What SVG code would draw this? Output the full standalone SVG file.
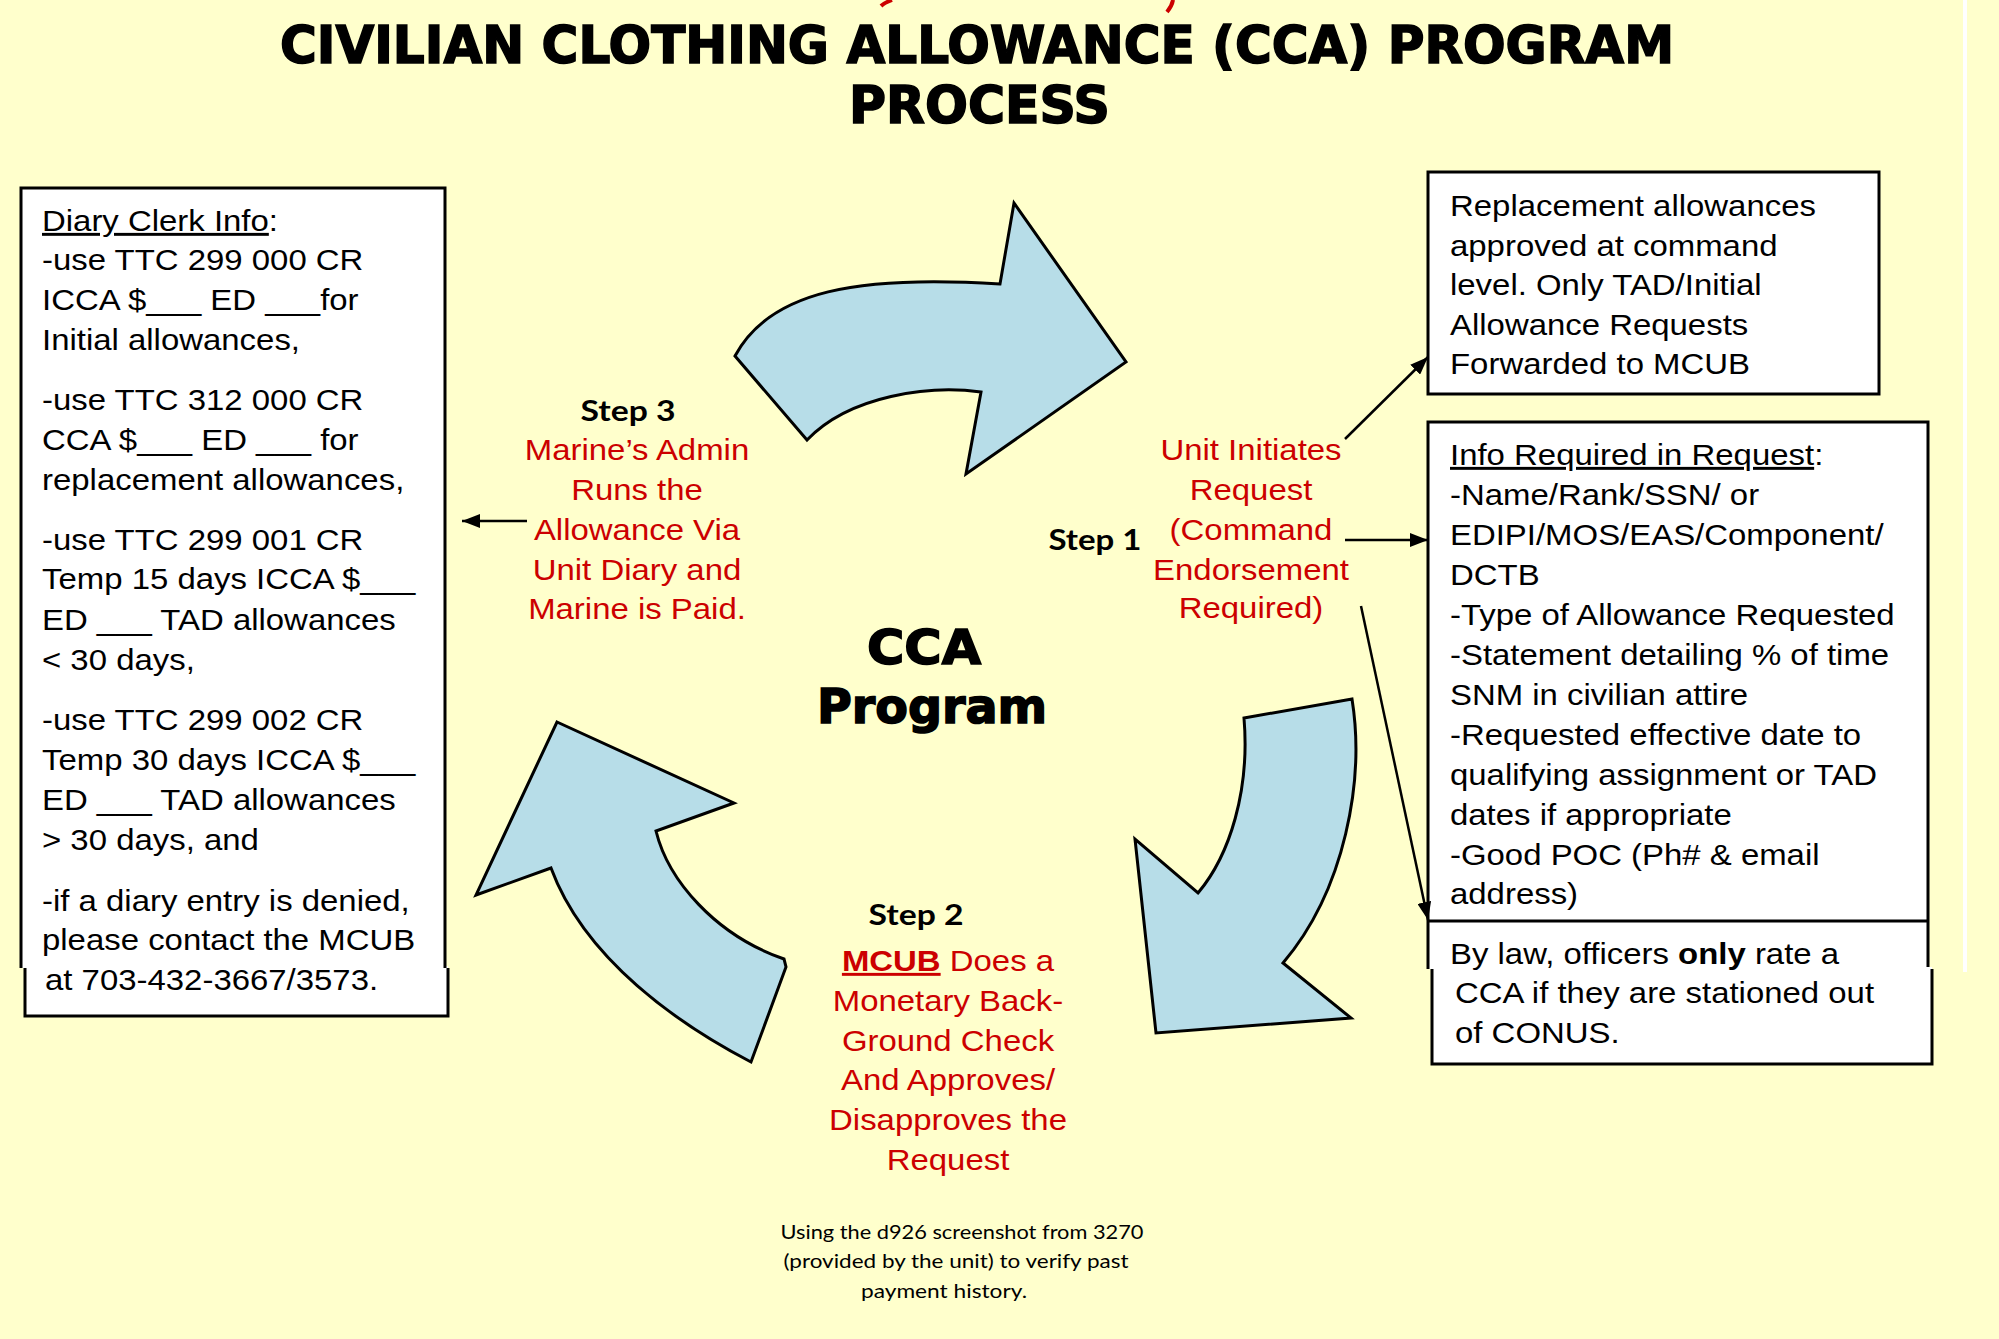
<svg xmlns="http://www.w3.org/2000/svg" width="1999" height="1339" viewBox="0 0 1999 1339">
<defs>
<style>
.bg{fill:#FFFFCC}
.box{fill:#FFFFFF;stroke:none}
.edge{fill:none;stroke:#000;stroke-width:3}
.arr{fill:#B7DDE8;stroke:#000;stroke-width:3;stroke-linejoin:miter}
.t{font-family:"Liberation Sans",Arial,sans-serif;font-size:29.4px;fill:#000}
.r{font-family:"Liberation Sans",Arial,sans-serif;font-size:29.4px;fill:#CC0000;text-anchor:middle}
.step{font-family:Lato,"Open Sans",sans-serif;font-weight:700;font-size:28px;fill:#000}
.title{font-family:"DejaVu Sans",sans-serif;font-weight:700;fill:#000;stroke:#000;stroke-width:1.6px}
.foot{font-family:Lato,"Open Sans",sans-serif;font-size:20px;fill:#000;text-anchor:middle}
.conn{stroke:#000;stroke-width:2.5;fill:none}
</style>
<marker id="ah" markerUnits="userSpaceOnUse" markerWidth="18" markerHeight="14" refX="18" refY="7" orient="auto">
<path d="M0,0 L18,7 L0,14 z" fill="#000"/>
</marker>
</defs>
<rect class="bg" x="0" y="0" width="1999" height="1339"/>
<rect x="1963" y="0" width="4" height="972" fill="#FFFFFF"/>
<path d="M892,0 Q884,3 881,6" stroke="#CC0000" stroke-width="4" fill="none"/>
<path d="M1173,0 Q1172,6 1167,12" stroke="#CC0000" stroke-width="4" fill="none"/>

<g id="title">
<text class="title" x="280" y="63" font-size="52" textLength="1394" lengthAdjust="spacingAndGlyphs">CIVILIAN CLOTHING ALLOWANCE (CCA) PROGRAM</text>
<text class="title" x="849" y="123" font-size="52" textLength="261" lengthAdjust="spacingAndGlyphs">PROCESS</text>
</g>

<g id="arrow-top">
<path class="arr" d="M735,356 C770,290 860,275 1000,284 L1014,203 L1126,362 L966,474 L981,392 C930,385 850,395 807,440 Z"/>
</g>
<g id="arrow-right">
<path class="arr" d="M1244,718 L1352,699 C1365,780 1345,890 1283,963 L1351,1018 L1156,1033 L1135,839 L1198,893 C1230,855 1250,790 1244,718 Z"/>
</g>
<g id="arrow-left">
<path class="arr" d="M557,722 L734,803 L656,831 C668,880 715,935 784,959 L786,967 L751,1062 C680,1025 585,960 551,868 L476,895 Z"/>
</g>

<g id="center-label">
<text class="title" x="867" y="664" font-size="48" textLength="114" lengthAdjust="spacingAndGlyphs">CCA</text>
<text class="title" x="817" y="723" font-size="48" textLength="230" lengthAdjust="spacingAndGlyphs">Program</text>
</g>

<g id="diary-clerk-box">
<rect class="box" x="21" y="188" width="424" height="780"/>
<rect class="box" x="25" y="966" width="423" height="50"/>
<path class="edge" d="M21,968 L21,188 L445,188 L445,968"/>
<path class="edge" d="M25,968 L25,1016 L448,1016 L448,968"/>
<g transform="translate(42,0) scale(1.12,1)">
<text class="t" x="0" y="231"><tspan text-decoration="underline">Diary Clerk Info</tspan>:</text>
<text class="t" x="0" y="270">-use TTC 299 000 CR</text>
<text class="t" x="0" y="310">ICCA $___ ED ___for</text>
<text class="t" x="0" y="350">Initial allowances,</text>
<text class="t" x="0" y="410">-use TTC 312 000 CR</text>
<text class="t" x="0" y="450">CCA $___ ED ___ for</text>
<text class="t" x="0" y="490">replacement allowances,</text>
<text class="t" x="0" y="550">-use TTC 299 001 CR</text>
<text class="t" x="0" y="589">Temp 15 days ICCA $___</text>
<text class="t" x="0" y="630">ED ___ TAD allowances</text>
<text class="t" x="0" y="670">&lt; 30 days,</text>
<text class="t" x="0" y="730">-use TTC 299 002 CR</text>
<text class="t" x="0" y="770">Temp 30 days ICCA $___</text>
<text class="t" x="0" y="810">ED ___ TAD allowances</text>
<text class="t" x="0" y="850">&gt; 30 days, and</text>
<text class="t" x="0" y="911">-if a diary entry is denied,</text>
<text class="t" x="0" y="950">please contact the MCUB</text>
<text class="t" x="2.7" y="990">at 703-432-3667/3573.</text>
</g>
</g>

<g id="step3">
<text class="step" x="628" y="421" text-anchor="middle" textLength="95" lengthAdjust="spacingAndGlyphs">Step 3</text>
<g transform="translate(637,0) scale(1.12,1)">
<text class="r" x="0" y="460">Marine’s Admin</text>
<text class="r" x="0" y="500">Runs the</text>
<text class="r" x="0" y="540">Allowance Via</text>
<text class="r" x="0" y="580">Unit Diary and</text>
<text class="r" x="0" y="619">Marine is Paid.</text>
</g>
</g>

<g id="step1">
<text class="step" x="1095" y="550" text-anchor="middle" textLength="93" lengthAdjust="spacingAndGlyphs">Step 1</text>
<g transform="translate(1251,0) scale(1.12,1)">
<text class="r" x="0" y="460">Unit Initiates</text>
<text class="r" x="0" y="500">Request</text>
<text class="r" x="0" y="540">(Command</text>
<text class="r" x="0" y="580">Endorsement</text>
<text class="r" x="0" y="618">Required)</text>
</g>
</g>

<g id="step2">
<text class="step" x="916" y="925" text-anchor="middle" textLength="95" lengthAdjust="spacingAndGlyphs">Step 2</text>
<g transform="translate(948,0) scale(1.12,1)">
<text class="r" x="0" y="971"><tspan font-weight="700" text-decoration="underline">MCUB</tspan> Does a</text>
<text class="r" x="0" y="1011">Monetary Back-</text>
<text class="r" x="0" y="1051">Ground Check</text>
<text class="r" x="0" y="1090">And Approves/</text>
<text class="r" x="0" y="1130">Disapproves the</text>
<text class="r" x="0" y="1170">Request</text>
</g>
</g>

<g id="replacement-box">
<rect class="box" x="1428" y="172" width="451" height="222"/>
<rect class="edge" x="1428" y="172" width="451" height="222"/>
<g transform="translate(1450,0) scale(1.12,1)">
<text class="t" x="0" y="216">Replacement allowances</text>
<text class="t" x="0" y="256">approved at command</text>
<text class="t" x="0" y="295">level. Only TAD/Initial</text>
<text class="t" x="0" y="335">Allowance Requests</text>
<text class="t" x="0" y="374">Forwarded to MCUB</text>
</g>
</g>

<g id="info-box">
<rect class="box" x="1428" y="422" width="500" height="547"/>
<path class="edge" d="M1428,969 L1428,422 L1928,422 L1928,969"/>
<g transform="translate(1450,0) scale(1.12,1)">
<text class="t" x="0" y="465"><tspan text-decoration="underline">Info Required in Request</tspan>:</text>
<text class="t" x="0" y="505">-Name/Rank/SSN/ or</text>
<text class="t" x="0" y="545">EDIPI/MOS/EAS/Component/</text>
<text class="t" x="0" y="585">DCTB</text>
<text class="t" x="0" y="625">-Type of Allowance Requested</text>
<text class="t" x="0" y="665">-Statement detailing % of time</text>
<text class="t" x="0" y="705">SNM in civilian attire</text>
<text class="t" x="0" y="745">-Requested effective date to</text>
<text class="t" x="0" y="785">qualifying assignment or TAD</text>
<text class="t" x="0" y="825">dates if appropriate</text>
<text class="t" x="0" y="865">-Good POC (Ph# &amp; email</text>
<text class="t" x="0" y="904">address)</text>
</g>
</g>

<g id="law-box">
<rect class="box" x="1432" y="967" width="500" height="97"/>
<path class="edge" d="M1428,921 L1928,921"/>
<path class="edge" d="M1432,969 L1432,1064 L1932,1064 L1932,969"/>
<g transform="translate(1450,0) scale(1.12,1)">
<text class="t" x="0" y="964">By law, officers <tspan font-weight="700">only</tspan> rate a</text>
<text class="t" x="4.5" y="1003">CCA if they are stationed out</text>
<text class="t" x="4.5" y="1043">of CONUS.</text>
</g>
</g>

<g id="footnote">
<text class="foot" x="962" y="1239" textLength="363" lengthAdjust="spacingAndGlyphs">Using the d926 screenshot from 3270</text>
<text class="foot" x="956" y="1268" textLength="345" lengthAdjust="spacingAndGlyphs">(provided by the unit) to verify past</text>
<text class="foot" x="944" y="1298" textLength="166" lengthAdjust="spacingAndGlyphs">payment history.</text>
</g>

<g id="connectors">
<line class="conn" x1="1345" y1="439" x2="1428" y2="357" marker-end="url(#ah)"/>
<line class="conn" x1="1345" y1="540" x2="1428" y2="540" marker-end="url(#ah)"/>
<line class="conn" x1="1361" y1="606" x2="1428" y2="920" marker-end="url(#ah)"/>
<line class="conn" x1="527" y1="521" x2="462" y2="521" marker-end="url(#ah)"/>
</g>
</svg>
